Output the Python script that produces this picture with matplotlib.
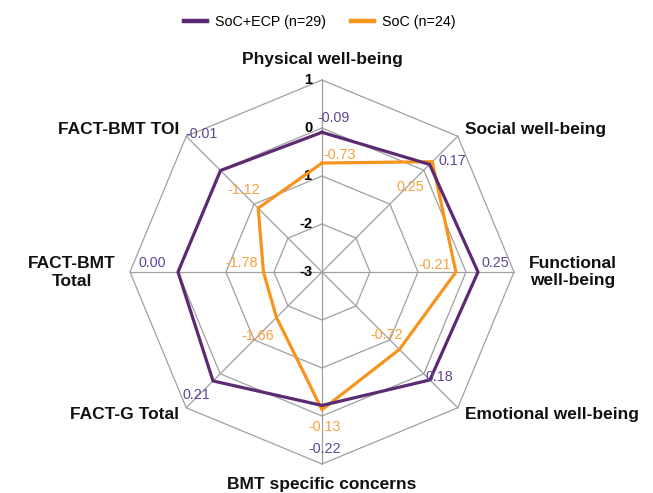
import numpy as np
import matplotlib.pyplot as plt
from matplotlib.lines import Line2D

plt.rcParams["font.family"] = ["Liberation Sans", "DejaVu Sans"]

categories = [
    "Physical well-being",
    "Social well-being",
    "Functional\nwell-being",
    "Emotional well-being",
    "BMT specific concerns",
    "FACT-G Total",
    "FACT-BMT\nTotal",
    "FACT-BMT TOI",
]
soc_ecp = [-0.09, 0.17, 0.25, 0.18, -0.22, 0.21, 0.00, -0.01]
soc = [-0.73, 0.25, -0.21, -0.72, -0.13, -1.66, -1.78, -1.12]
series_names = ["SoC+ECP (n=29)", "SoC (n=24)"]
ticks = [1, 0, -1, -2, -3]
r_min, r_max = -3, 1

PURPLE = "#5c2a72"
PURPLE_TXT = "#5e4592"
ORANGE = "#f7941d"
ORANGE_TXT = "#f7a040"
GRID = "#a0a0a0"

# label offsets (pixels) from each data vertex
ecp_offsets = [(12, 14), (23, 3), (17, 9), (9, 3), (3, -44), (-17, -14), (-26, 9), (-19, 37)]
soc_offsets = [(18, 8), (-22, -25), (-21, 7), (-13, 14), (3, -17), (-19, -19), (-22, 9), (-15, 18)]

n = len(categories)
angles = np.arange(n) * 2 * np.pi / n


def to_xy(values):
    r = np.asarray(values) - r_min
    return r * np.sin(angles), r * np.cos(angles)


W, H, DPI = 653, 493, 100
cx, cy, scale = 322, 272, 48.0

fig = plt.figure(figsize=(W / DPI, H / DPI), dpi=DPI)
ax = fig.add_axes([0, 0, 1, 1])
ax.set_xlim(-cx / scale, (W - cx) / scale)
ax.set_ylim(-(H - cy) / scale, cy / scale)
ax.axis("off")

# octagon grid and spokes
for t in ticks[:-1]:
    gx, gy = to_xy([t] * n)
    ax.plot(np.append(gx, gx[0]), np.append(gy, gy[0]), color=GRID, lw=0.9, zorder=1)
ox, oy = to_xy([r_max] * n)
for x, y in zip(ox, oy):
    ax.plot([0, x], [0, y], color=GRID, lw=0.9, zorder=1)

for t in ticks:
    ax.text(-0.2, t - r_min, str(t), ha="right", va="center",
            fontsize=10.5, fontweight="bold", color="black")

# series
for vals, color, txtc, offs in [(soc, ORANGE, ORANGE_TXT, soc_offsets),
                                (soc_ecp, PURPLE, PURPLE_TXT, ecp_offsets)]:
    x, y = to_xy(vals)
    ax.plot(np.append(x, x[0]), np.append(y, y[0]), color=color, lw=2.3, zorder=3)
    for xi, yi, v, off in zip(x, y, vals, offs):
        ax.annotate(f"{v:.2f}", (xi, yi), xytext=off, textcoords="offset pixels",
                    ha="center", va="center", fontsize=10.3, color=txtc, zorder=4)

# category labels
for ang, label in zip(angles, categories):
    s, c = np.sin(ang), np.cos(ang)
    if abs(s) < 1e-6:
        r, ha = 4.42, "center"
    elif abs(c) < 1e-6:
        r, ha = 4.3, "left" if s > 0 else "right"
    else:
        r, ha = 4.2, "left" if s > 0 else "right"
    ax.text(r * s, r * c, label, ha=ha, va="center", multialignment="center",
            fontsize=12.5, fontweight="bold", color="#111111", linespacing=1.25)

handles = [Line2D([], [], color=PURPLE, lw=3.2), Line2D([], [], color=ORANGE, lw=3.2)]
fig.legend(handles, series_names, loc="center", bbox_to_anchor=(0.49, 0.955),
           ncol=2, frameon=False, fontsize=10.3, handlelength=1.6,
           handletextpad=0.6, columnspacing=1.7)

fig.savefig("out.png", dpi=DPI)
